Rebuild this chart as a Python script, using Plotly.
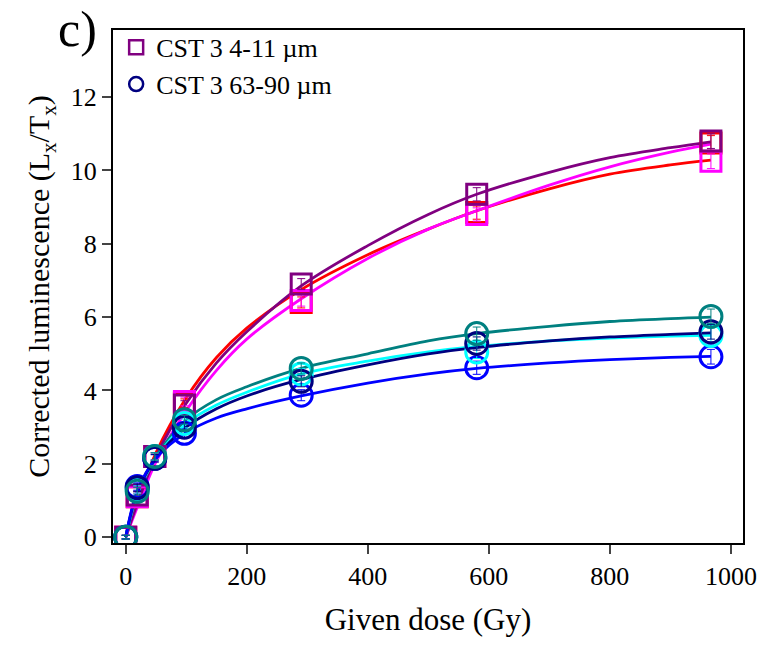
import plotly.graph_objects as go

# ---- data ----
dose = [0, 19, 48, 97, 290, 580, 967]

sq_purple = [0, 1.15, 2.2, 3.6, 6.9, 9.35, 10.8]
sq_magenta = [0, 1.1, 2.2, 3.7, 6.45, 8.8, 10.25]
sq_red = [0, 1.1, 2.2, 3.65, 6.4, 8.85, 10.75]

ci_teal = [0, 1.25, 2.2, 3.2, 4.6, 5.55, 6.02]
ci_navy = [0, 1.35, 2.15, 3.0, 4.25, 5.28, 5.6]
ci_cyan = [0, 1.3, 2.2, 3.1, 4.45, 5.05, 5.5]
ci_blue = [0, 1.38, 2.15, 2.83, 3.87, 4.62, 4.92]

err = [0.05, 0.1, 0.1, 0.12, 0.15, 0.18, 0.2]

# fitted curves
fit_x = [0, 20, 50, 100, 150, 200, 290, 400, 500, 580, 700, 800, 900, 967]
fit_red = [0, 1.0, 2.3, 3.8, 4.9, 5.7, 6.75, 7.7, 8.4, 8.9, 9.5, 9.9, 10.15, 10.28]
fit_purple = [0, 0.95, 2.2, 3.65, 4.75, 5.6, 6.85, 7.95, 8.8, 9.35, 9.95, 10.35, 10.62, 10.78]
fit_magenta = [0, 0.85, 2.05, 3.45, 4.55, 5.4, 6.5, 7.6, 8.4, 8.9, 9.6, 10.1, 10.5, 10.72]
fit_teal = [0, 1.25, 2.2, 3.2, 3.75, 4.1, 4.6, 5.0, 5.35, 5.55, 5.75, 5.88, 5.96, 6.0]
fit_cyan = [0, 1.2, 2.15, 3.1, 3.6, 3.95, 4.45, 4.8, 5.05, 5.2, 5.35, 5.43, 5.48, 5.5]
fit_navy = [0, 1.25, 2.15, 3.0, 3.5, 3.85, 4.3, 4.7, 5.0, 5.17, 5.35, 5.46, 5.53, 5.57]
fit_blue = [0, 1.3, 2.15, 2.85, 3.25, 3.5, 3.85, 4.2, 4.45, 4.6, 4.75, 4.84, 4.9, 4.93]

x_ticks = [0, 200, 400, 600, 800, 1000]
y_ticks = [0, 2, 4, 6, 8, 10, 12]
legend_names = ["CST 3 4-11 µm", "CST 3 63-90 µm"]

FONT = "Liberation Serif"

fig = go.Figure()

fits = [
    (fit_red, "red"), (fit_magenta, "magenta"), (fit_purple, "purple"),
    (fit_teal, "teal"), (fit_cyan, "cyan"), (fit_navy, "navy"), (fit_blue, "blue"),
]
for ys, c in fits:
    fig.add_trace(go.Scatter(x=fit_x, y=ys, mode="lines", line=dict(color=c, width=2.8, shape="spline"),
                             showlegend=False, hoverinfo="skip"))

markers = [
    (sq_red, "red", "square-open", 20),
    (sq_magenta, "magenta", "square-open", 20),
    (sq_purple, "purple", "square-open", 20),
    (ci_blue, "blue", "circle-open", 22),
    (ci_cyan, "cyan", "circle-open", 22),
    (ci_navy, "navy", "circle-open", 22),
    (ci_teal, "teal", "circle-open", 22),
]
for ys, c, sym, sz in markers:
    fig.add_trace(go.Scatter(
        x=dose, y=ys, mode="markers",
        marker=dict(symbol=sym, size=sz, color=c, line=dict(width=3, color=c)),
        error_y=dict(type="data", array=err, color=c, thickness=1, width=4),
        showlegend=False))

# legend entries
fig.add_trace(go.Scatter(x=[None], y=[None], mode="markers", name=legend_names[0],
                         marker=dict(symbol="square-open", size=14, color="purple", line=dict(width=2.5))))
fig.add_trace(go.Scatter(x=[None], y=[None], mode="markers", name=legend_names[1],
                         marker=dict(symbol="circle-open", size=14, color="navy", line=dict(width=2.5))))

fig.update_layout(
    width=768, height=650,
    margin=dict(l=113, r=25, t=30, b=107),
    plot_bgcolor="white", paper_bgcolor="white",
    font=dict(family=FONT, color="black", size=25),
    legend=dict(x=0.005, y=1.012, xanchor="left", yanchor="top", bgcolor="rgba(0,0,0,0)",
                font=dict(size=26, family=FONT), tracegroupgap=0, itemwidth=30),
    annotations=[dict(text="c)", xref="paper", yref="paper", x=-0.09, y=1.06,
                      xanchor="left", yanchor="top", showarrow=False,
                      font=dict(size=50, family=FONT))],
)
fig.update_xaxes(range=[-21, 1020], tickvals=x_ticks, ticks="outside", ticklen=9, tickwidth=1.5,
                 showline=True, linecolor="black", linewidth=2, mirror=True, showgrid=False,
                 zeroline=False, title=dict(text="Given dose (Gy)", font=dict(size=31), standoff=18),
                 tickfont=dict(size=26))
fig.update_yaxes(range=[-0.16, 13.83], tickvals=y_ticks, ticks="outside", ticklen=9, tickwidth=1.5,
                 showline=True, linecolor="black", linewidth=2, mirror=True, showgrid=False,
                 zeroline=False,
                 title=dict(text="Corrected luminescence (L<sub>x</sub>/T<sub>x</sub>)", font=dict(size=30),
                            standoff=12),
                 tickfont=dict(size=26))

fig.write_html("out.html")
